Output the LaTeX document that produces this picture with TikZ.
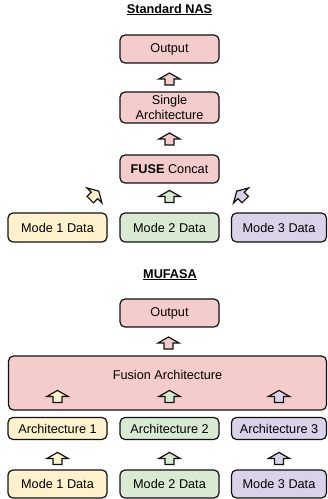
\documentclass[tikz,border=0pt]{standalone}
\usepackage{fontspec}
\setmainfont{Liberation Sans}
\usetikzlibrary{calc}
\definecolor{pinkc}{HTML}{F4CCCC}
\definecolor{yellowc}{HTML}{FFF2CC}
\definecolor{greenc}{HTML}{D9EAD3}
\definecolor{purplec}{HTML}{D9D2E9}
\definecolor{edgec}{HTML}{111111}
\tikzset{
  box/.style={draw=edgec, line width=1.2pt, rounded corners=5pt, inner sep=0pt,
    align=center, font=\fontsize{12.7}{15}\selectfont, minimum width=99pt, minimum height=28pt},
  title/.style={font=\fontsize{12.7}{15}\selectfont\bfseries, inner sep=0pt, anchor=base},
  lbl/.style={font=\fontsize{12.7}{15}\selectfont, inner sep=0pt},
  blockarr/.pic={\filldraw[draw=edgec, line width=1.2pt, line join=miter, pic actions]
    (-4.5,6) -- (-4.5,0) -- (-10.5,0) -- (0,-6) -- (10.5,0) -- (4.5,0) -- (4.5,6) -- cycle;}
}
\begin{document}
\begin{tikzpicture}[x=1pt, y=-1pt]
\useasboundingbox (0,0) rectangle (328,499);
% Standard NAS
\node[title] (t1) at (169.5,13) {\underline{Standard NAS}};
\node[box, fill=pinkc] (out1) at (169.5,49) {Output};
\node[box, fill=pinkc, minimum height=31pt] (single) at (169.5,107.5) {Single\\Architecture};
\node[box, fill=pinkc] (fuse) at (169.5,169) {\textbf{FUSE} Concat};
\node[box, fill=yellowc, minimum height=29pt] (m1a) at (57.5,227.5) {Mode 1 Data};
\node[box, fill=greenc, minimum height=29pt] (m2a) at (169.5,227.5) {Mode 2 Data};
\node[box, fill=purplec, minimum height=29pt, minimum width=95pt] (m3a) at (279,227.5) {Mode 3 Data};
\pic[fill=pinkc] at ($(out1.south)!0.5!(single.north)+(0,1.5)$) {blockarr};
\pic[fill=pinkc] at ($(single.south)!0.5!(fuse.north)$) {blockarr};
\pic[fill=greenc] at ($(m2a.north)+(0,-16)$) {blockarr};
\pic[fill=yellowc, rotate=-45] at ($(m1a.north)+(37,-17)$) {blockarr};
\pic[fill=purplec, rotate=45] at ($(m3a.north)+(-38,-17)$) {blockarr};
% MUFASA
\node[title] (t2) at (170,278) {\underline{MUFASA}};
\node[box, fill=pinkc] (out2) at (169.5,313) {Output};
\node[box, fill=pinkc, minimum width=318pt, minimum height=54pt] (fusion) at (167.5,383) {};
\node[lbl] (fusionlbl) at (167.5,375) {Fusion Architecture};
\node[box, fill=yellowc, minimum height=22pt] (a1b) at (57.5,428.5) {Architecture 1};
\node[box, fill=greenc, minimum height=22pt] (a2b) at (169.5,428.5) {Architecture 2};
\node[box, fill=purplec, minimum height=22pt, minimum width=95pt] (a3b) at (279,428.5) {Architecture 3};
\node[box, fill=yellowc] (m1b) at (57.5,484) {Mode 1 Data};
\node[box, fill=greenc] (m2b) at (169.5,484) {Mode 2 Data};
\node[box, fill=purplec, minimum width=95pt] (m3b) at (279,484) {Mode 3 Data};
\pic[fill=pinkc] at ($(out2.south)!0.5!(fusion.north)+(0,1.5)$) {blockarr};
\pic[fill=yellowc] at ($(a1b.north)+(0,-20.5)$) {blockarr};
\pic[fill=greenc] at ($(a2b.north)+(0,-20.5)$) {blockarr};
\pic[fill=purplec] at ($(a3b.north)+(0,-20.5)$) {blockarr};
\pic[fill=yellowc] at ($(m1b.north)+(0,-11)$) {blockarr};
\pic[fill=greenc] at ($(m2b.north)+(0,-11)$) {blockarr};
\pic[fill=purplec] at ($(m3b.north)+(0,-11)$) {blockarr};
\end{tikzpicture}
\end{document}
